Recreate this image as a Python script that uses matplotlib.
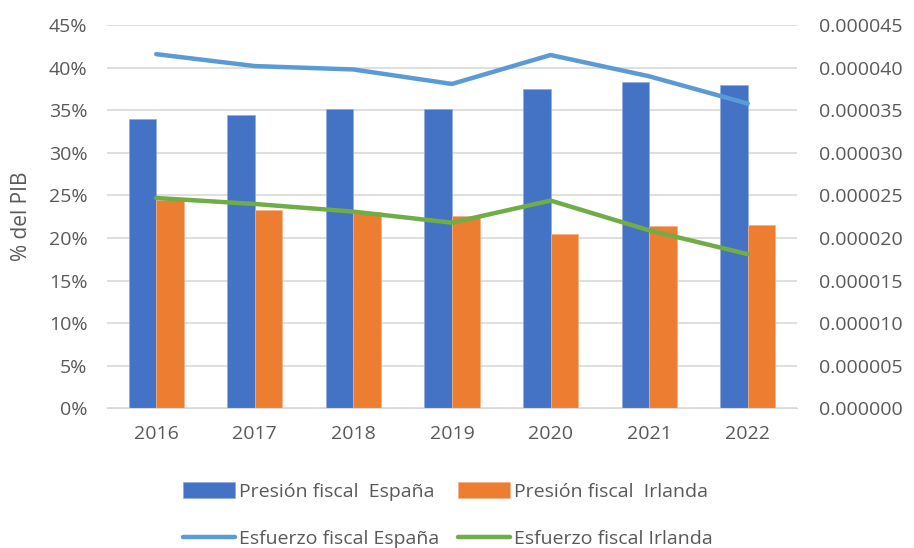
import numpy as np
import matplotlib.pyplot as plt
from matplotlib.ticker import FuncFormatter

plt.rcParams['font.family'] = ['Open Sans', 'DejaVu Sans']

years = ['2016', '2017', '2018', '2019', '2020', '2021', '2022']
presion_es = [34.0, 34.4, 35.2, 35.2, 37.45, 38.3, 38.0]
presion_ie = [24.5, 23.3, 23.0, 22.6, 20.5, 21.4, 21.5]
esfuerzo_es = [0.0000416, 0.0000402, 0.0000398, 0.0000381, 0.0000415, 0.0000390, 0.0000358]
esfuerzo_ie = [0.0000247, 0.0000240, 0.0000231, 0.0000218, 0.0000244, 0.0000209, 0.0000181]

grey = '#595959'
fs = 14
x = np.arange(len(years))
w = 0.28

fig = plt.figure(figsize=(9.14, 5.48), dpi=100)
ax = fig.add_axes([0.117, 0.255, 0.755, 0.699])

ax.yaxis.grid(True, color='#D9D9D9', lw=1.2)
ax.set_axisbelow(True)
b1 = ax.bar(x - w / 2, presion_es, w, color='#4472C4', edgecolor='#8FAADC', lw=0.5,
            label='Presión fiscal  España')
b2 = ax.bar(x + w / 2, presion_ie, w, color='#ED7D31', edgecolor='#F4B183', lw=0.5,
            label='Presión fiscal  Irlanda')
ax.set_ylim(0, 45)
ax.set_xlim(-0.5, len(years) - 0.5)
ax.set_yticks(np.arange(0, 46, 5))
ax.yaxis.set_major_formatter(FuncFormatter(lambda v, p: f'{v:.0f}%'))
ax.set_xticks(x)
ax.set_xticklabels(years)
ax.set_ylabel('% del PIB', color=grey, fontsize=fs + 1, labelpad=12)

ax2 = ax.twinx()
l1, = ax2.plot(x, esfuerzo_es, color='#5B9BD5', lw=3.2, solid_capstyle='round',
               label='Esfuerzo fiscal España')
l2, = ax2.plot(x, esfuerzo_ie, color='#70AD47', lw=3.2, solid_capstyle='round',
               label='Esfuerzo fiscal Irlanda')
ax2.set_ylim(0, 0.000045)
ax2.set_yticks(np.arange(0, 10) * 0.000005)
ax2.yaxis.set_major_formatter(FuncFormatter(lambda v, p: f'{v:.6f}'))

for a in (ax, ax2):
    for s in a.spines.values():
        s.set_visible(False)
    a.tick_params(length=0, colors=grey, labelsize=fs)
ax.spines['bottom'].set_visible(True)
ax.spines['bottom'].set_color('#D9D9D9')
ax.tick_params(axis='y', pad=14)
ax.tick_params(axis='x', pad=12)
ax2.tick_params(axis='y', pad=16)

leg = fig.legend([b1, l1, b2, l2],
                 [b1.get_label(), l1.get_label(), b2.get_label(), l2.get_label()],
                 ncol=2, loc='lower center', bbox_to_anchor=(0.49, -0.032),
                 frameon=False, fontsize=fs, labelcolor=grey,
                 handlelength=2.7, handleheight=0.9, handletextpad=0.2,
                 columnspacing=0.95, labelspacing=1.45)

plt.savefig('out.png', dpi=100)
